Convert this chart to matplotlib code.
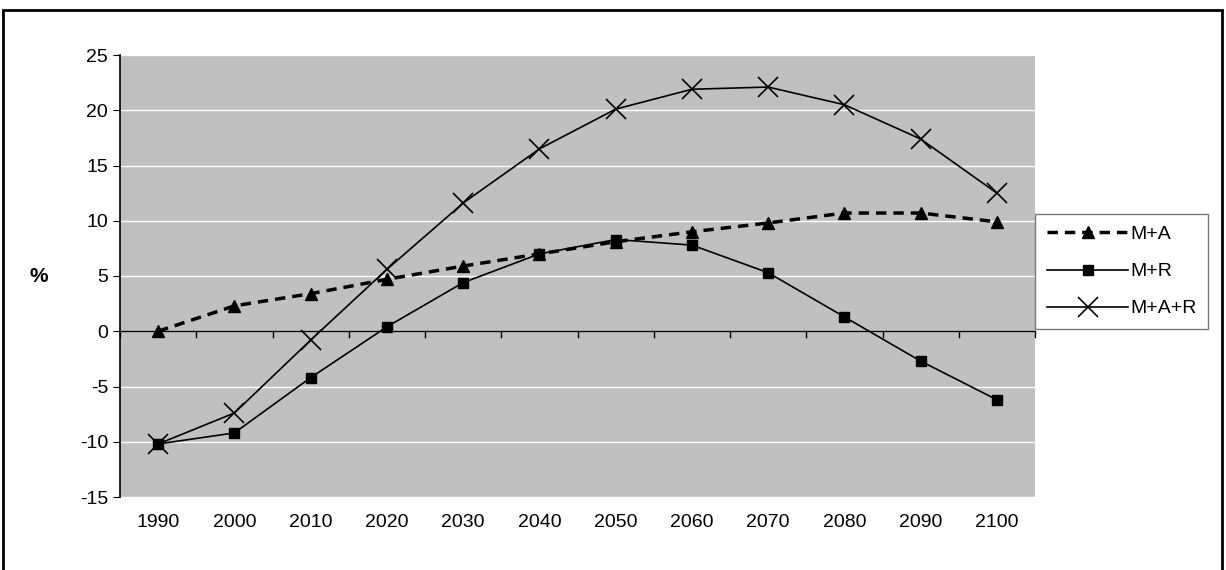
import matplotlib
matplotlib.use("Agg")
import matplotlib.pyplot as plt
from matplotlib.patches import Rectangle

plt.rcParams["font.family"] = ["Liberation Sans", "DejaVu Sans"]
plt.rcParams["axes.unicode_minus"] = False

years = ["1990", "2000", "2010", "2020", "2030", "2040", "2050", "2060", "2070", "2080", "2090", "2100"]
m_a = [0.0, 2.3, 3.4, 4.7, 5.9, 7.0, 8.1, 9.0, 9.8, 10.7, 10.7, 9.9]
m_r = [-10.2, -9.2, -4.2, 0.4, 4.4, 7.0, 8.3, 7.8, 5.3, 1.3, -2.7, -6.2]
m_a_r = [-10.2, -7.4, -0.8, 5.6, 11.6, 16.5, 20.1, 21.9, 22.1, 20.5, 17.4, 12.5]

fig = plt.figure(figsize=(12.26, 5.70), dpi=100)
fig.patches.append(Rectangle((3 / 1226, -0.01), 1219 / 1226, 1 - 10 / 570 + 0.01,
                             transform=fig.transFigure, fill=False, ec="black", lw=2))
ax = fig.add_axes([120 / 1226, 73 / 570, 915 / 1226, 442 / 570])
ax.set_facecolor("#C0C0C0")
x = range(len(years))

ax.plot(x, m_a, ls=(0, (3, 2)), lw=2.5, color="black", marker="^", ms=8, label="M+A", zorder=3)
ax.plot(x, m_r, ls="-", lw=1.2, color="black", marker="s", ms=7, label="M+R", zorder=3)
ax.plot(x, m_a_r, ls="-", lw=1.2, color="black", marker="x", ms=14, mew=1.2, label="M+A+R", zorder=3)

ax.set_xlim(-0.5, len(years) - 0.5)
ax.set_ylim(-15, 25)
ax.set_yticks(range(-15, 26, 5))
ax.yaxis.grid(True, color="white", lw=1)
ax.set_axisbelow(True)
ax.set_xticks(list(x))
ax.set_xticklabels(years)
ax.tick_params(axis="x", length=0, labelsize=14, pad=12)
ax.tick_params(axis="y", labelsize=14, direction="out", length=5)
ax.axhline(0, color="black", lw=1, zorder=2)
for i in range(len(years) + 1):
    ax.plot([i - 0.5, i - 0.5], [-0.5, 0], color="black", lw=1, clip_on=False)
for s in ["top", "right"]:
    ax.spines[s].set_visible(False)
ax.spines["bottom"].set_visible(False)
ax.spines["left"].set_linewidth(1.2)
ax.set_ylabel("%", rotation=0, fontsize=15, fontweight="bold", labelpad=30, va="center")

leg = fig.legend(loc="upper left", bbox_to_anchor=(1035 / 1226, 1 - 214 / 570), fontsize=14,
                 frameon=True, fancybox=False, edgecolor="#555555", handlelength=4.2,
                 borderpad=0.6, labelspacing=1.0, handletextpad=0.1, borderaxespad=0)
leg.get_frame().set_linewidth(1)

fig.savefig("out.png", dpi=100)
